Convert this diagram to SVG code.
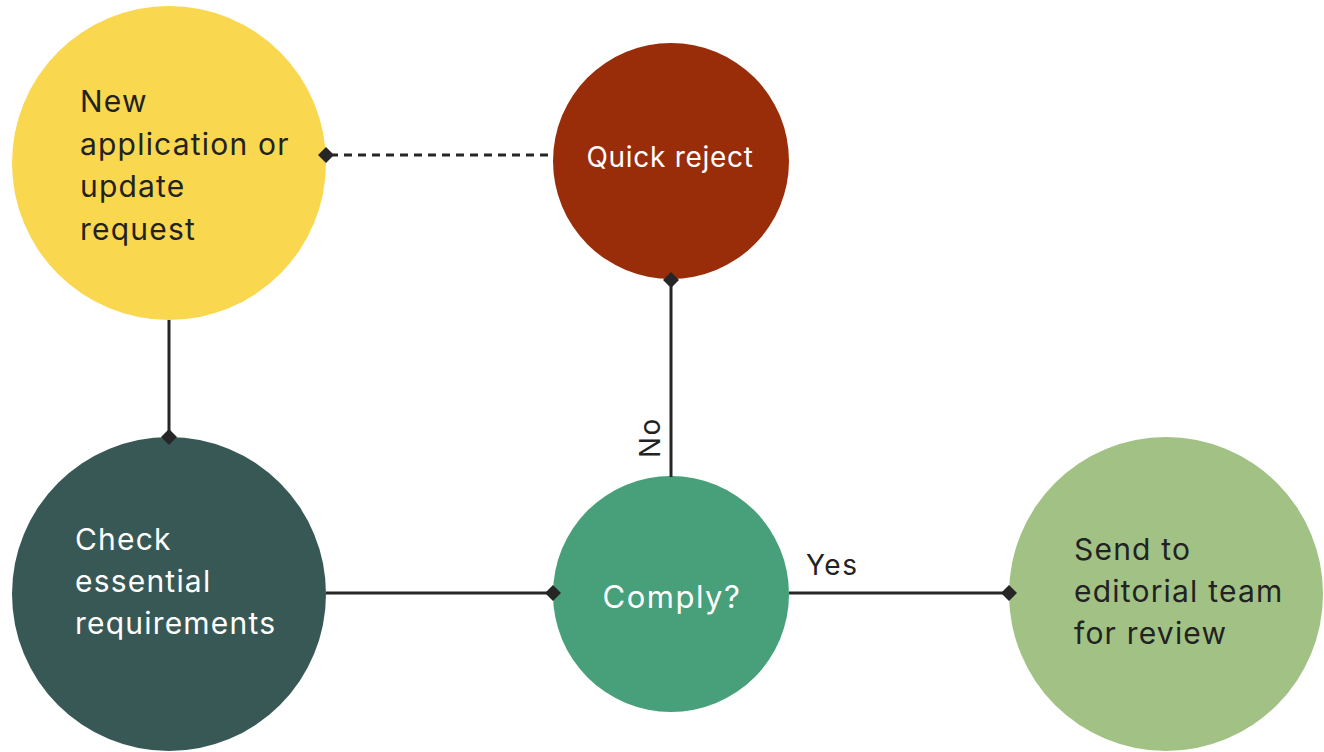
<svg xmlns="http://www.w3.org/2000/svg" width="1324" height="752" viewBox="0 0 1324 752">
<defs>
<style>
.lbl{font-family:Inter,"Noto Sans",sans-serif;font-size:30px;letter-spacing:1.2px;}
.dark{fill:#222222;}
.light{fill:#ffffff;}
.edge{stroke:#262626;stroke-width:3;fill:none;}
.dia{fill:#262626;}
.el{font-family:Inter,"Noto Sans",sans-serif;font-size:28px;letter-spacing:1.5px;fill:#222222;}
</style>
<path id="d" d="M0,-8 L8,0 L0,8 L-8,0 Z"/>
</defs>
<rect width="1324" height="752" fill="#ffffff"/>
<g id="new">
<circle cx="169" cy="163" r="157" fill="#F9D74F"/>
<text class="lbl dark" x="80" y="112">New</text>
<text class="lbl dark" x="80" y="155">application or</text>
<text class="lbl dark" x="80" y="197">update</text>
<text class="lbl dark" x="80" y="240">request</text>
</g>
<g id="reject">
<circle cx="671" cy="161" r="118" fill="#992D0A"/>
<text class="lbl light" x="670" y="167" text-anchor="middle" style="font-size:28px;letter-spacing:0.7px">Quick reject</text>
</g>
<g id="check">
<circle cx="169" cy="594" r="157" fill="#385856"/>
<text class="lbl light" x="75" y="550">Check</text>
<text class="lbl light" x="75" y="592">essential</text>
<text class="lbl light" x="75" y="634">requirements</text>
</g>
<g id="comply">
<circle cx="671" cy="594" r="118" fill="#47A07A"/>
<text class="lbl light" x="672" y="608" text-anchor="middle" style="font-size:31px;letter-spacing:1.5px">Comply?</text>
</g>
<g id="send">
<circle cx="1166" cy="594" r="157" fill="#A1C284"/>
<text class="lbl dark" x="1074" y="560">Send to</text>
<text class="lbl dark" x="1074" y="602">editorial team</text>
<text class="lbl dark" x="1074" y="644">for review</text>
</g>
<g id="connectors">
<line class="edge" x1="330" y1="155" x2="553" y2="155" stroke-dasharray="8,6" stroke-width="3"/>
<use href="#d" class="dia" x="326" y="155"/>
<line class="edge" x1="169" y1="320" x2="169" y2="437"/>
<use href="#d" class="dia" x="169" y="437"/>
<line class="edge" x1="671" y1="280" x2="671" y2="477"/>
<use href="#d" class="dia" x="671" y="280"/>
<line class="edge" x1="326" y1="593" x2="553" y2="593"/>
<use href="#d" class="dia" x="553" y="593"/>
<line class="edge" x1="789" y1="593" x2="1009" y2="593"/>
<use href="#d" class="dia" x="1009" y="593"/>
<text class="el" transform="translate(660,458) rotate(-90)">No</text>
<text class="el" x="806" y="575">Yes</text>
</g>
</svg>
